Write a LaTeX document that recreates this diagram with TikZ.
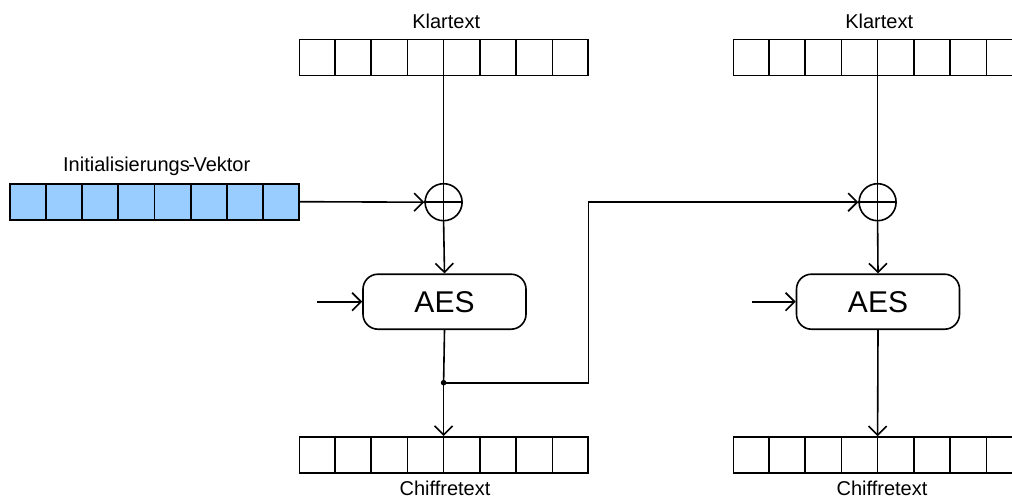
\documentclass[tikz,border=0pt]{standalone}
\usepackage{fontspec}
\setmainfont{Liberation Sans}
\usetikzlibrary{arrows.meta,calc}
\definecolor{ivblue}{HTML}{99CCFF}
\tikzset{
  reg/.style={draw, line width=1.6pt, minimum width=288.5pt, minimum height=36pt, inner sep=0pt},
  xorgate/.style={draw, circle, line width=1.6pt, minimum size=37pt, inner sep=0pt},
  cipher/.style={draw, rounded corners=15pt, line width=1.6pt, minimum width=163pt, minimum height=55pt, inner sep=0pt, font=\fontsize{30}{36}\selectfont},
  lbl/.style={anchor=base, inner sep=0pt, font=\fontsize{20}{24}\selectfont},
  wire/.style={line width=1.6pt},
  flow/.style={line width=1.6pt, -{Straight Barb[length=9pt,width=18pt,line width=1.6pt]}},
}
% eight cells inside a register node
\newcommand{\cellsof}[1]{%
  \foreach \k in {1,...,7}
    \draw[wire] ($(#1.north west)!\k/8!(#1.north east)$) -- ($(#1.south west)!\k/8!(#1.south east)$);}
\begin{document}
\begin{tikzpicture}[x=1pt,y=-1pt]
\clip (0,0) rectangle (1012,500);
\fill[white] (0,0) rectangle (1012,500);

% registers
\node[reg] (K1) at (443.6,57.5) {};
\node[reg] (K2) at (877.6,57.5) {};
\node[reg, fill=ivblue] (IV) at (154.5,201.7) {};
\node[reg] (C1) at (443.6,454.8) {};
\node[reg] (C2) at (877.6,455) {};
\cellsof{K1}\cellsof{K2}\cellsof{IV}\cellsof{C1}\cellsof{C2}

% labels
\node[lbl] (tK1) at (446.2,28.3) {Klartext};
\node[lbl] (tK2) at (879.2,28.3) {Klartext};
\node[lbl] (tIV) at (156.7,171.7) {Initialisierungs\kern-1.5pt-\kern-1.5pt Vektor};
\node[lbl] (tC1) at (445,495.5) {Chiffretext};
\node[lbl] (tC2) at (882,495.5) {Chiffretext};

% XOR gates
\node[xorgate] (X1) at (443.6,202.2) {};
\node[xorgate] (X2) at (877.6,202.2) {};
\draw[wire] (X1.west) -- (X1.east);
\draw[wire] (X2.west) -- (X2.east);

% block cipher boxes
\node[cipher] (A1) at (444.5,301.7) {AES};
\node[cipher] (A2) at (878,301.7) {AES};

% key inputs
\coordinate (k1) at (317,301.7);
\coordinate (k2) at (751.7,301.7);
\draw[flow] (k1) -- (A1.west);
\draw[flow] (k2) -- (A2.west);

% first block
\draw[flow] (IV.east) -- (X1.west);
\draw[wire] (K1.south) -- (X1.south);
\draw[flow] (X1.south) -- (A1.north);
\coordinate (d1) at (443.6,382.7);
\draw[wire] (A1.south) -- (d1);
\draw[flow] (d1) -- (C1.north);
\fill (d1) circle (2.8pt);

% chaining into second block
\coordinate (c1) at (588.3,382.7);
\draw[flow] (d1) -- (c1) |- (X2.west);

% second block
\draw[wire] (K2.south) -- (X2.south);
\draw[flow] (X2.south) -- (A2.north);
\draw[flow] (A2.south) -- (C2.north);
\end{tikzpicture}
\end{document}
